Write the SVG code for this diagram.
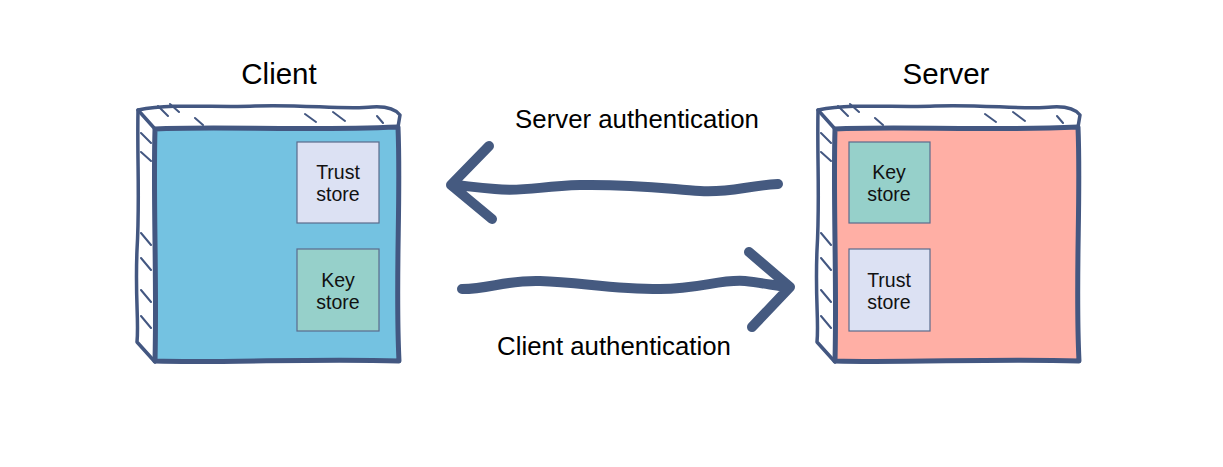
<svg xmlns="http://www.w3.org/2000/svg" width="1223" height="467" viewBox="0 0 1223 467">
<style>
.frame{fill:none;stroke:#435781;stroke-width:3.5;stroke-linecap:round;stroke-linejoin:round}
.front{stroke:#435781;stroke-width:5;stroke-linejoin:round}
.hatch{fill:none;stroke:#435781;stroke-width:2;stroke-linecap:round}
.store{stroke:#5b6b8c;stroke-width:1.2}
.trust{fill:#dce1f3}
.key{fill:#96d0ca}
.title{font-family:"Liberation Sans",Arial,sans-serif;font-size:29.5px;fill:#000;text-anchor:middle}
.lbl{font-family:"Liberation Sans",Arial,sans-serif;font-size:25.8px;fill:#000;text-anchor:middle}
.st{font-family:"Liberation Sans",Arial,sans-serif;font-size:19.5px;fill:#111;text-anchor:middle}
.arrow{fill:none;stroke:#455a80;stroke-width:10;stroke-linecap:round;stroke-linejoin:round}
</style>
<defs>
<g id="sketch">
<path class="frame" d="M155,129 L138,110 C175,103 215,108 255,106 C300,104 345,110 372,107 C388,106 396,110 400,115 L398,127"/>
<path class="frame" d="M138,110 C137,160 140,200 137,250 C135,300 139,320 137,342 L155,362"/>
<path class="hatch" d="M158,106 L168,116 M170,104 L179,112 M195,118 L203,125 M305,114 L316,122 M333,112 L345,121 M377,116 L383,123 M141,133 L151,143 M141,152 L151,161 M141,233 L151,245 M141,258 L151,270 M141,290 L151,302 M141,316 L151,328"/>
</g>
</defs>
<text class="title" x="279" y="84">Client</text>
<text class="title" x="946" y="84">Server</text>
<g id="client">
<use href="#sketch"/>
<path class="front" fill="#74c2e1" d="M155,129 C220,126 300,131 398,127 C401,200 395,280 399,361 C320,358 230,363 155,361 C157,280 153,200 155,129 Z"/>
<g id="client-trust"><rect class="store trust" x="297" y="142" width="82" height="81"/><text class="st" x="338" y="179">Trust</text><text class="st" x="338" y="201">store</text></g>
<g id="client-key"><rect class="store key" x="297" y="249" width="82" height="82"/><text class="st" x="338" y="287">Key</text><text class="st" x="338" y="309">store</text></g>
</g>
<g id="server">
<use href="#sketch" transform="translate(680,0)"/>
<path class="front" fill="#ffafa5" d="M835,129 C900,126 980,131 1078,127 C1081,200 1075,280 1079,361 C1000,358 910,363 835,361 C837,280 833,200 835,129 Z"/>
<g id="server-key"><rect class="store key" x="849" y="142" width="81" height="81"/><text class="st" x="889" y="179">Key</text><text class="st" x="889" y="201">store</text></g>
<g id="server-trust"><rect class="store trust" x="849" y="249" width="81" height="82"/><text class="st" x="889" y="287">Trust</text><text class="st" x="889" y="309">store</text></g>
</g>
<g id="connectors">
<path class="arrow" d="M778,184 C745,186 730,193 700,191 C660,188 630,184 580,185 C540,186 525,192 495,189 C470,187 460,185 451,185 M489,146 L451,185 L492,219"/>
<path class="arrow" d="M462,289 C490,289 505,280 540,281 C580,282 610,289 660,289 C700,289 720,279 745,281 C765,283 780,287 790,287 M749,252 L790,287 L752,327"/>
<text class="lbl" x="637" y="128">Server authentication</text>
<text class="lbl" x="614" y="355">Client authentication</text>
</g>
</svg>
